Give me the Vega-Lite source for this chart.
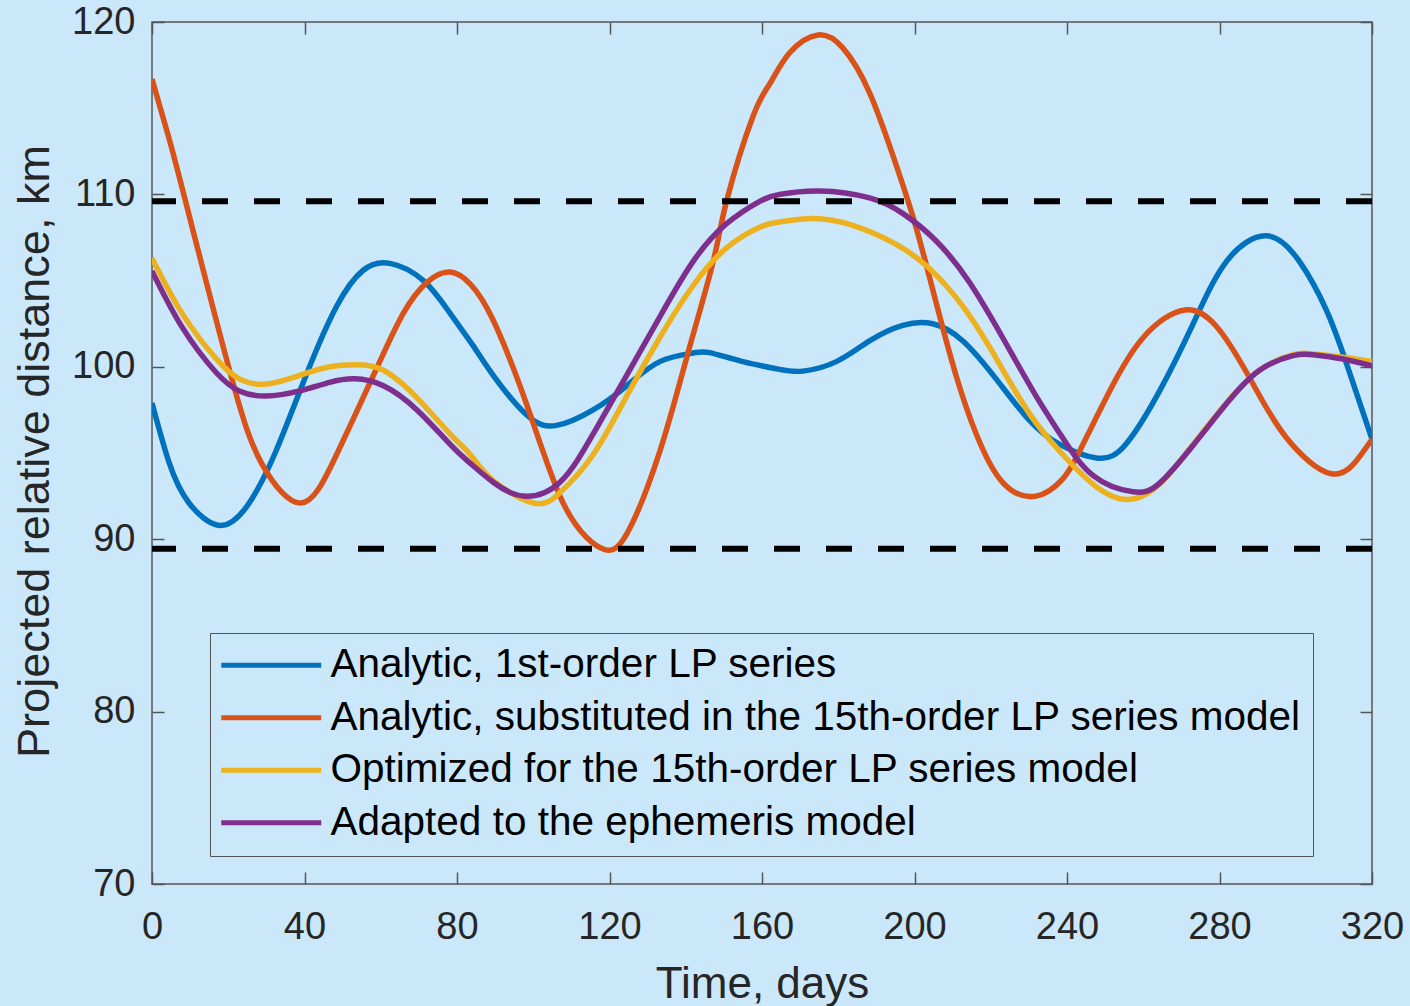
{
  "$schema": "https://vega.github.io/schema/vega-lite/v6.json",
  "width": 1220,
  "height": 862,
  "autosize": {"type": "none"},
  "padding": {"left": 152, "top": 22, "right": 38, "bottom": 122},
  "background": "#CBE8FB",
  "config": {
    "view": {"stroke": "#555555", "strokeWidth": 1.5},
    "font": "Liberation Sans"
  },
  "datasets": {
    "curves": [
      {"series": "Analytic, 1st-order LP series", "day": 0, "km": 97.9},
      {"series": "Analytic, 1st-order LP series", "day": 4.4, "km": 94.5},
      {"series": "Analytic, 1st-order LP series", "day": 9.7, "km": 92.1},
      {"series": "Analytic, 1st-order LP series", "day": 18, "km": 90.8},
      {"series": "Analytic, 1st-order LP series", "day": 25.5, "km": 92.1},
      {"series": "Analytic, 1st-order LP series", "day": 32.5, "km": 95.1},
      {"series": "Analytic, 1st-order LP series", "day": 40.4, "km": 99.5},
      {"series": "Analytic, 1st-order LP series", "day": 48.4, "km": 103.5},
      {"series": "Analytic, 1st-order LP series", "day": 55.4, "km": 105.6},
      {"series": "Analytic, 1st-order LP series", "day": 62.4, "km": 106.0},
      {"series": "Analytic, 1st-order LP series", "day": 71.2, "km": 105.0},
      {"series": "Analytic, 1st-order LP series", "day": 78.2, "km": 103.1},
      {"series": "Analytic, 1st-order LP series", "day": 84, "km": 101.3},
      {"series": "Analytic, 1st-order LP series", "day": 89.5, "km": 99.5},
      {"series": "Analytic, 1st-order LP series", "day": 98.3, "km": 97.2},
      {"series": "Analytic, 1st-order LP series", "day": 106.1, "km": 96.6},
      {"series": "Analytic, 1st-order LP series", "day": 115.7, "km": 97.5},
      {"series": "Analytic, 1st-order LP series", "day": 124.5, "km": 98.9},
      {"series": "Analytic, 1st-order LP series", "day": 133.2, "km": 100.3},
      {"series": "Analytic, 1st-order LP series", "day": 141.9, "km": 100.8},
      {"series": "Analytic, 1st-order LP series", "day": 146.3, "km": 100.82},
      {"series": "Analytic, 1st-order LP series", "day": 155, "km": 100.3},
      {"series": "Analytic, 1st-order LP series", "day": 164.6, "km": 99.85},
      {"series": "Analytic, 1st-order LP series", "day": 170.7, "km": 99.75},
      {"series": "Analytic, 1st-order LP series", "day": 179.5, "km": 100.3},
      {"series": "Analytic, 1st-order LP series", "day": 188.2, "km": 101.5},
      {"series": "Analytic, 1st-order LP series", "day": 196.9, "km": 102.4},
      {"series": "Analytic, 1st-order LP series", "day": 204.8, "km": 102.5},
      {"series": "Analytic, 1st-order LP series", "day": 212.7, "km": 101.5},
      {"series": "Analytic, 1st-order LP series", "day": 221.4, "km": 99.3},
      {"series": "Analytic, 1st-order LP series", "day": 230.1, "km": 96.9},
      {"series": "Analytic, 1st-order LP series", "day": 238.1, "km": 95.5},
      {"series": "Analytic, 1st-order LP series", "day": 248.1, "km": 94.7},
      {"series": "Analytic, 1st-order LP series", "day": 255.6, "km": 95.55},
      {"series": "Analytic, 1st-order LP series", "day": 264.3, "km": 98.6},
      {"series": "Analytic, 1st-order LP series", "day": 273.1, "km": 102.5},
      {"series": "Analytic, 1st-order LP series", "day": 281.8, "km": 106.1},
      {"series": "Analytic, 1st-order LP series", "day": 292.3, "km": 107.6},
      {"series": "Analytic, 1st-order LP series", "day": 301, "km": 106.1},
      {"series": "Analytic, 1st-order LP series", "day": 308, "km": 103.3},
      {"series": "Analytic, 1st-order LP series", "day": 313.3, "km": 100.2},
      {"series": "Analytic, 1st-order LP series", "day": 320, "km": 95.8},

      {"series": "Analytic, substituted in the 15th-order LP series model", "day": 0, "km": 116.7},
      {"series": "Analytic, substituted in the 15th-order LP series model", "day": 4.4, "km": 113.3},
      {"series": "Analytic, substituted in the 15th-order LP series model", "day": 8.8, "km": 109.6},
      {"series": "Analytic, substituted in the 15th-order LP series model", "day": 20.7, "km": 99.5},
      {"series": "Analytic, substituted in the 15th-order LP series model", "day": 29, "km": 94.3},
      {"series": "Analytic, substituted in the 15th-order LP series model", "day": 39.1, "km": 92.1},
      {"series": "Analytic, substituted in the 15th-order LP series model", "day": 48.4, "km": 94.9},
      {"series": "Analytic, substituted in the 15th-order LP series model", "day": 58.9, "km": 99.9},
      {"series": "Analytic, substituted in the 15th-order LP series model", "day": 65.9, "km": 103.1},
      {"series": "Analytic, substituted in the 15th-order LP series model", "day": 72.1, "km": 104.9},
      {"series": "Analytic, substituted in the 15th-order LP series model", "day": 78.2, "km": 105.5},
      {"series": "Analytic, substituted in the 15th-order LP series model", "day": 83.5, "km": 104.8},
      {"series": "Analytic, substituted in the 15th-order LP series model", "day": 89.5, "km": 102.7},
      {"series": "Analytic, substituted in the 15th-order LP series model", "day": 98.3, "km": 97.8},
      {"series": "Analytic, substituted in the 15th-order LP series model", "day": 107, "km": 92.5},
      {"series": "Analytic, substituted in the 15th-order LP series model", "day": 114, "km": 90.1},
      {"series": "Analytic, substituted in the 15th-order LP series model", "day": 118.8, "km": 89.4},
      {"series": "Analytic, substituted in the 15th-order LP series model", "day": 124.5, "km": 90.3},
      {"series": "Analytic, substituted in the 15th-order LP series model", "day": 133.2, "km": 95.1},
      {"series": "Analytic, substituted in the 15th-order LP series model", "day": 140.2, "km": 100.5},
      {"series": "Analytic, substituted in the 15th-order LP series model", "day": 147.2, "km": 106.1},
      {"series": "Analytic, substituted in the 15th-order LP series model", "day": 150.7, "km": 109.6},
      {"series": "Analytic, substituted in the 15th-order LP series model", "day": 157.6, "km": 114.5},
      {"series": "Analytic, substituted in the 15th-order LP series model", "day": 162, "km": 116.4},
      {"series": "Analytic, substituted in the 15th-order LP series model", "day": 167.2, "km": 118.2},
      {"series": "Analytic, substituted in the 15th-order LP series model", "day": 174.7, "km": 119.25},
      {"series": "Analytic, substituted in the 15th-order LP series model", "day": 181.2, "km": 118.5},
      {"series": "Analytic, substituted in the 15th-order LP series model", "day": 188.2, "km": 115.9},
      {"series": "Analytic, substituted in the 15th-order LP series model", "day": 195.2, "km": 111.7},
      {"series": "Analytic, substituted in the 15th-order LP series model", "day": 200.4, "km": 108.1},
      {"series": "Analytic, substituted in the 15th-order LP series model", "day": 205.7, "km": 103.7},
      {"series": "Analytic, substituted in the 15th-order LP series model", "day": 210.9, "km": 99.5},
      {"series": "Analytic, substituted in the 15th-order LP series model", "day": 216.2, "km": 96.1},
      {"series": "Analytic, substituted in the 15th-order LP series model", "day": 223.1, "km": 93.3},
      {"series": "Analytic, substituted in the 15th-order LP series model", "day": 231.9, "km": 92.5},
      {"series": "Analytic, substituted in the 15th-order LP series model", "day": 238.9, "km": 93.5},
      {"series": "Analytic, substituted in the 15th-order LP series model", "day": 243.3, "km": 95.1},
      {"series": "Analytic, substituted in the 15th-order LP series model", "day": 251.2, "km": 98.6},
      {"series": "Analytic, substituted in the 15th-order LP series model", "day": 260, "km": 101.7},
      {"series": "Analytic, substituted in the 15th-order LP series model", "day": 270.9, "km": 103.3},
      {"series": "Analytic, substituted in the 15th-order LP series model", "day": 280.1, "km": 102.1},
      {"series": "Analytic, substituted in the 15th-order LP series model", "day": 288.8, "km": 99.0},
      {"series": "Analytic, substituted in the 15th-order LP series model", "day": 297.5, "km": 95.9},
      {"series": "Analytic, substituted in the 15th-order LP series model", "day": 309.3, "km": 93.8},
      {"series": "Analytic, substituted in the 15th-order LP series model", "day": 316.8, "km": 94.8},
      {"series": "Analytic, substituted in the 15th-order LP series model", "day": 320, "km": 95.8},

      {"series": "Optimized for the 15th-order LP series model", "day": 0, "km": 106.3},
      {"series": "Optimized for the 15th-order LP series model", "day": 7.9, "km": 103.1},
      {"series": "Optimized for the 15th-order LP series model", "day": 16.7, "km": 100.5},
      {"series": "Optimized for the 15th-order LP series model", "day": 22.9, "km": 99.3},
      {"series": "Optimized for the 15th-order LP series model", "day": 29.9, "km": 99.0},
      {"series": "Optimized for the 15th-order LP series model", "day": 38.7, "km": 99.5},
      {"series": "Optimized for the 15th-order LP series model", "day": 46.6, "km": 100.0},
      {"series": "Optimized for the 15th-order LP series model", "day": 53.6, "km": 100.12},
      {"series": "Optimized for the 15th-order LP series model", "day": 60.7, "km": 99.8},
      {"series": "Optimized for the 15th-order LP series model", "day": 69.5, "km": 98.2},
      {"series": "Optimized for the 15th-order LP series model", "day": 78.2, "km": 96.1},
      {"series": "Optimized for the 15th-order LP series model", "day": 83.5, "km": 94.9},
      {"series": "Optimized for the 15th-order LP series model", "day": 89.5, "km": 93.4},
      {"series": "Optimized for the 15th-order LP series model", "day": 100, "km": 92.1},
      {"series": "Optimized for the 15th-order LP series model", "day": 107, "km": 92.7},
      {"series": "Optimized for the 15th-order LP series model", "day": 115.7, "km": 94.9},
      {"series": "Optimized for the 15th-order LP series model", "day": 124.5, "km": 98.3},
      {"series": "Optimized for the 15th-order LP series model", "day": 133.2, "km": 101.7},
      {"series": "Optimized for the 15th-order LP series model", "day": 141.9, "km": 104.7},
      {"series": "Optimized for the 15th-order LP series model", "day": 150.7, "km": 106.9},
      {"series": "Optimized for the 15th-order LP series model", "day": 159.4, "km": 108.1},
      {"series": "Optimized for the 15th-order LP series model", "day": 164.6, "km": 108.4},
      {"series": "Optimized for the 15th-order LP series model", "day": 173.4, "km": 108.6},
      {"series": "Optimized for the 15th-order LP series model", "day": 183.8, "km": 108.2},
      {"series": "Optimized for the 15th-order LP series model", "day": 195.2, "km": 107.1},
      {"series": "Optimized for the 15th-order LP series model", "day": 203.9, "km": 105.7},
      {"series": "Optimized for the 15th-order LP series model", "day": 212.7, "km": 103.5},
      {"series": "Optimized for the 15th-order LP series model", "day": 221.4, "km": 100.5},
      {"series": "Optimized for the 15th-order LP series model", "day": 230.1, "km": 97.3},
      {"series": "Optimized for the 15th-order LP series model", "day": 238.5, "km": 95.0},
      {"series": "Optimized for the 15th-order LP series model", "day": 246.8, "km": 93.2},
      {"series": "Optimized for the 15th-order LP series model", "day": 255.6, "km": 92.3},
      {"series": "Optimized for the 15th-order LP series model", "day": 264.3, "km": 93.2},
      {"series": "Optimized for the 15th-order LP series model", "day": 273.1, "km": 95.5},
      {"series": "Optimized for the 15th-order LP series model", "day": 281.8, "km": 97.9},
      {"series": "Optimized for the 15th-order LP series model", "day": 290.5, "km": 99.8},
      {"series": "Optimized for the 15th-order LP series model", "day": 299.3, "km": 100.7},
      {"series": "Optimized for the 15th-order LP series model", "day": 304.5, "km": 100.75},
      {"series": "Optimized for the 15th-order LP series model", "day": 312.4, "km": 100.55},
      {"series": "Optimized for the 15th-order LP series model", "day": 320, "km": 100.3},

      {"series": "Adapted to the ephemeris model", "day": 0, "km": 105.55},
      {"series": "Adapted to the ephemeris model", "day": 7.9, "km": 102.3},
      {"series": "Adapted to the ephemeris model", "day": 16.7, "km": 99.7},
      {"series": "Adapted to the ephemeris model", "day": 22.9, "km": 98.6},
      {"series": "Adapted to the ephemeris model", "day": 29.9, "km": 98.3},
      {"series": "Adapted to the ephemeris model", "day": 38.7, "km": 98.6},
      {"series": "Adapted to the ephemeris model", "day": 46.6, "km": 99.1},
      {"series": "Adapted to the ephemeris model", "day": 53.2, "km": 99.3},
      {"series": "Adapted to the ephemeris model", "day": 60.7, "km": 98.9},
      {"series": "Adapted to the ephemeris model", "day": 69.5, "km": 97.5},
      {"series": "Adapted to the ephemeris model", "day": 78.2, "km": 95.5},
      {"series": "Adapted to the ephemeris model", "day": 83.5, "km": 94.4},
      {"series": "Adapted to the ephemeris model", "day": 89.5, "km": 93.3},
      {"series": "Adapted to the ephemeris model", "day": 97.4, "km": 92.5},
      {"series": "Adapted to the ephemeris model", "day": 107, "km": 93.3},
      {"series": "Adapted to the ephemeris model", "day": 115.7, "km": 96.1},
      {"series": "Adapted to the ephemeris model", "day": 124.5, "km": 99.5},
      {"series": "Adapted to the ephemeris model", "day": 133.2, "km": 102.9},
      {"series": "Adapted to the ephemeris model", "day": 141.9, "km": 106.1},
      {"series": "Adapted to the ephemeris model", "day": 150.7, "km": 108.3},
      {"series": "Adapted to the ephemeris model", "day": 159.4, "km": 109.6},
      {"series": "Adapted to the ephemeris model", "day": 164.6, "km": 110.0},
      {"series": "Adapted to the ephemeris model", "day": 175.1, "km": 110.2},
      {"series": "Adapted to the ephemeris model", "day": 188.2, "km": 109.8},
      {"series": "Adapted to the ephemeris model", "day": 196.9, "km": 108.9},
      {"series": "Adapted to the ephemeris model", "day": 205.7, "km": 107.3},
      {"series": "Adapted to the ephemeris model", "day": 214.4, "km": 104.9},
      {"series": "Adapted to the ephemeris model", "day": 223.1, "km": 101.7},
      {"series": "Adapted to the ephemeris model", "day": 231.9, "km": 98.3},
      {"series": "Adapted to the ephemeris model", "day": 238.5, "km": 96.0},
      {"series": "Adapted to the ephemeris model", "day": 246.8, "km": 93.7},
      {"series": "Adapted to the ephemeris model", "day": 257.3, "km": 92.75},
      {"series": "Adapted to the ephemeris model", "day": 264.3, "km": 93.25},
      {"series": "Adapted to the ephemeris model", "day": 273.1, "km": 95.45},
      {"series": "Adapted to the ephemeris model", "day": 281.8, "km": 97.85},
      {"series": "Adapted to the ephemeris model", "day": 290.5, "km": 99.8},
      {"series": "Adapted to the ephemeris model", "day": 299.3, "km": 100.65},
      {"series": "Adapted to the ephemeris model", "day": 304.5, "km": 100.7},
      {"series": "Adapted to the ephemeris model", "day": 312.4, "km": 100.45},
      {"series": "Adapted to the ephemeris model", "day": 320, "km": 100.05}
    ],
    "bounds": [{"level": 109.6}, {"level": 89.45}]
  },
  "resolve": {"axis": {"x": "independent", "y": "independent"}},
  "layer": [
    {
      "data": {"name": "curves"},
      "mark": {"type": "line", "strokeWidth": 5.5, "interpolate": "natural", "clip": true},
      "encoding": {
        "x": {
          "field": "day", "type": "quantitative",
          "scale": {"domain": [0, 320], "nice": false, "zero": false},
          "axis": {
            "values": [0, 40, 80, 120, 160, 200, 240, 280, 320],
            "grid": false, "domain": false, "labelOverlap": false,
            "tickSize": -12, "tickColor": "#555555", "tickWidth": 1.5,
            "labelFontSize": 38, "labelColor": "#262626", "labelPadding": 36,
            "labelFont": "Liberation Sans", "labelFlush": false,
            "title": "Time, days", "titleFontSize": 44, "titleFont": "Liberation Sans",
            "titleFontWeight": "normal", "titleColor": "#262626",
            "titleX": 610, "titleY": 113, "titleBaseline": "alphabetic", "titleAnchor": "middle"
          }
        },
        "y": {
          "field": "km", "type": "quantitative",
          "scale": {"domain": [70, 120], "nice": false, "zero": false},
          "axis": {
            "values": [70, 80, 90, 100, 110, 120],
            "grid": false, "domain": false, "labelOverlap": false,
            "tickSize": -12, "tickColor": "#555555", "tickWidth": 1.5,
            "labelFontSize": 38, "labelColor": "#262626", "labelPadding": 29,
            "labelFont": "Liberation Sans", "labelFlush": false,
            "title": "Projected relative distance, km", "titleFontSize": 45,
            "titleFont": "Liberation Sans", "titleFontWeight": "normal", "titleColor": "#262626",
            "titleAngle": -90, "titleX": -104, "titleY": 429, "titleBaseline": "alphabetic", "titleAnchor": "middle"
          }
        },
        "color": {
          "field": "series", "type": "nominal",
          "scale": {
            "domain": [
              "Analytic, 1st-order LP series",
              "Analytic, substituted in the 15th-order LP series model",
              "Optimized for the 15th-order LP series model",
              "Adapted to the ephemeris model"
            ],
            "range": ["#0072BD", "#D95319", "#EDB120", "#7E2F8E"]
          },
          "legend": {
            "orient": "none", "legendX": 58, "legendY": 611,
            "title": null,
            "symbolType": "M-4.2,0H15.8", "symbolSize": 100, "symbolStrokeWidth": 5,
            "labelFontSize": 40.5, "labelColor": "#000000", "labelFont": "Liberation Sans",
            "labelOffset": 68, "labelLimit": 1200,
            "padding": 12, "rowPadding": 11.5,
            "strokeColor": "#555555", "fillColor": "#CBE8FB"
          }
        }
      }
    },
    {
      "data": {"name": "bounds"},
      "mark": {"type": "rule", "strokeDash": [26, 26], "strokeWidth": 6, "color": "#000000"},
      "encoding": {
        "y": {"field": "level", "type": "quantitative", "axis": null}
      }
    },
    {
      "data": {"name": "curves"},
      "mark": {"type": "line", "strokeOpacity": 0},
      "encoding": {
        "x": {
          "field": "day", "type": "quantitative",
          "axis": {
            "orient": "top", "values": [0, 40, 80, 120, 160, 200, 240, 280, 320],
            "grid": false, "domain": false, "labels": false, "title": null,
            "tickSize": -12, "tickColor": "#555555", "tickWidth": 1.5
          }
        },
        "y": {
          "field": "km", "type": "quantitative",
          "axis": {
            "orient": "right", "values": [70, 80, 90, 100, 110, 120],
            "grid": false, "domain": false, "labels": false, "title": null,
            "tickSize": -12, "tickColor": "#555555", "tickWidth": 1.5
          }
        },
        "detail": {"field": "series", "type": "nominal"}
      }
    }
  ]
}
